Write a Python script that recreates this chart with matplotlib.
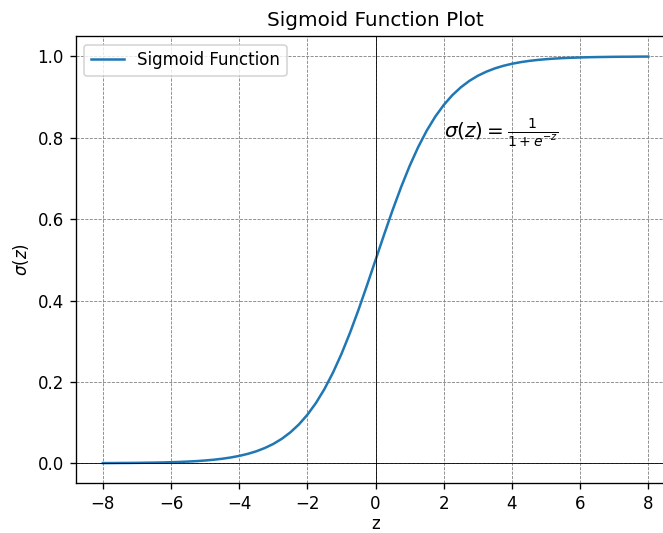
import matplotlib
matplotlib.use("Agg")
import matplotlib.pyplot as plt

# values, every 0.25 in z
z = [-8.0, -7.75, -7.5, -7.25, -7.0, -6.75, -6.5, -6.25, -6.0, -5.75,
     -5.5, -5.25, -5.0, -4.75, -4.5, -4.25, -4.0, -3.75, -3.5, -3.25,
     -3.0, -2.75, -2.5, -2.25, -2.0, -1.75, -1.5, -1.25, -1.0, -0.75,
     -0.5, -0.25, 0.0, 0.25, 0.5, 0.75, 1.0, 1.25, 1.5, 1.75, 2.0,
     2.25, 2.5, 2.75, 3.0, 3.25, 3.5, 3.75, 4.0, 4.25, 4.5, 4.75, 5.0,
     5.25, 5.5, 5.75, 6.0, 6.25, 6.5, 6.75, 7.0, 7.25, 7.5, 7.75, 8.0]
sigma = [0.0003, 0.0004, 0.0006, 0.0007, 0.0009, 0.0012, 0.0015, 0.0019,
         0.0025, 0.0032, 0.0041, 0.0052, 0.0067, 0.0086, 0.0110, 0.0141,
         0.0180, 0.0230, 0.0293, 0.0374, 0.0474, 0.0601, 0.0759, 0.0953,
         0.1192, 0.1480, 0.1824, 0.2227, 0.2689, 0.3208, 0.3775, 0.4378,
         0.5000, 0.5622, 0.6225, 0.6792, 0.7311, 0.7773, 0.8176, 0.8520,
         0.8808, 0.9047, 0.9241, 0.9399, 0.9526, 0.9626, 0.9707, 0.9770,
         0.9820, 0.9859, 0.9890, 0.9914, 0.9933, 0.9948, 0.9959, 0.9968,
         0.9975, 0.9981, 0.9985, 0.9988, 0.9991, 0.9993, 0.9994, 0.9996,
         0.9997]

fig, ax = plt.subplots(figsize=(663 / 120, 533 / 120), dpi=120)
# the reference is cropped on the right, so the axes runs past the edge
fig.subplots_adjust(left=0.114, right=1.019, top=0.932, bottom=0.093)

ax.plot(z, sigma, label="Sigmoid Function", color="#1f77b4", linewidth=1.5)
ax.axhline(0, color="black", linewidth=0.5)
ax.axvline(0, color="black", linewidth=0.5)
ax.grid(True, linestyle="--", linewidth=0.5, color="gray")

ax.text(2, 0.8, r"$\sigma(z) = \frac{1}{1 + e^{-z}}$", fontsize=12)

ax.set_title("Sigmoid Function Plot")
ax.set_xlabel("z", labelpad=1)
ax.set_ylabel(r"$\sigma(z)$")
ax.legend(loc="upper left")

fig.savefig("out.png", dpi=120)
